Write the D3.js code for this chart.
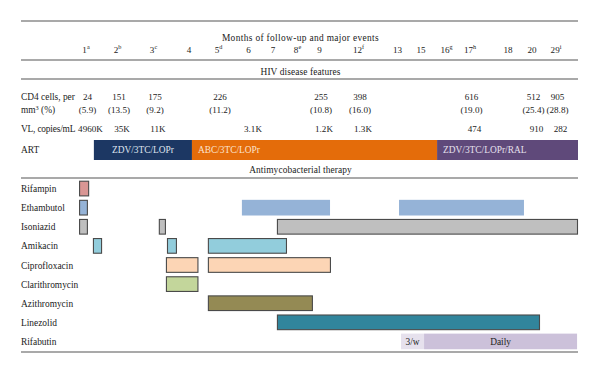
<!DOCTYPE html>
<html>
<head>
<meta charset="utf-8">
<script src="https://cdn.jsdelivr.net/npm/d3@7"></script>
<style>
  html, body { margin: 0; padding: 0; background: #fff; }
  svg { display: block; }
  text { font-family: "Liberation Serif", "DejaVu Serif", serif; fill: #222; }
</style>
</head>
<body>
<div id="chart"></div>
<script>
// ---------- DATA ----------
const months      = [1, 2, 3, 4, 5, 6, 7, 8, 9, 12, 13, 15, 16, 17, 18, 20, 29];
const monthSup    = ["a", "b", "c", "", "d", "", "", "e", "", "f", "", "", "g", "h", "", "", "i"];

const cd4Months   = [1, 2, 3, 5, 9, 12, 17, 20, 29];
const cd4Count    = [24, 151, 175, 226, 255, 398, 616, 512, 905];
const cd4Pct      = ["5.9", "13.5", "9.2", "11.2", "10.8", "16.0", "19.0", "25.4", "28.8"];

const vlMonths    = [1, 2, 3, 6, 9, 12, 17, 20, 29];
const vlCopies    = ["4960K", "35K", "11K", "3.1K", "1.2K", "1.3K", "474", "910", "282"];

const artRegimen  = ["ZDV/3TC/LOPr", "ABC/3TC/LOPr", "ZDV/3TC/LOPr/RAL"];
const artStart    = [1.25, 4.1, 15.63];
const artEnd      = [4.1, 15.63, 37.25];

const drugs = ["Rifampin", "Ethambutol", "Isoniazid", "Amikacin", "Ciprofloxacin",
               "Clarithromycin", "Azithromycin", "Linezolid", "Rifabutin"];

// treatment courses (month units on the follow-up axis)
const courseDrug  = ["Rifampin", "Ethambutol", "Ethambutol", "Ethambutol",
                     "Isoniazid", "Isoniazid", "Isoniazid",
                     "Amikacin", "Amikacin", "Amikacin",
                     "Ciprofloxacin", "Ciprofloxacin", "Clarithromycin",
                     "Azithromycin", "Linezolid", "Rifabutin", "Rifabutin"];
const courseStart = [0.78, 0.78, 5.78, 13.13, 0.78, 3.15, 7.16, 1.22, 3.38, 4.64,
                     3.35, 4.64, 3.35, 4.64, 7.16, 13.3, 15.12];
const courseEnd   = [1.1, 1.06, 9.81, 19.33, 1.06, 3.35, 37.25, 1.51, 3.66, 7.57,
                     4.32, 9.88, 4.32, 8.7, 23, 15.12, 36.9];
const courseNote  = ["", "", "", "", "", "", "", "", "", "", "", "", "", "", "", "3/w", "Daily"];

// ---------- STYLE ----------
const W = 600, H = 374;
const left = 21, right = 578;
const fs = 9.4;      // word labels
const fsNum = 9.1;   // numbers
const lineColor = "#8c8c8c";
const drugColor = d3.scaleOrdinal()
  .domain(drugs)
  .range(["#d99694", "#95b3d7", "#bfbfbf", "#92cddc", "#fcd5b5",
          "#c3d69b", "#948a54", "#31859c", "#ccc1da"]);
const artColor = d3.scaleOrdinal().domain(artRegimen).range(["#1c3763", "#e46c0a", "#5f497a"]);
const artTextColor = ["#dfe3ee", "#fbe3cf", "#e6e0ee"];
const artTextAlign = ["middle", "start", "start"];
const noBorder = new Set([2, 3, 15, 16]);
const noteFill = ["#e6e1ed", "#ccc1da"];

// ---------- SCALES ----------
const monthPos = [86, 117.5, 153.5, 189, 218.5, 248.5, 273, 297.5, 319.5,
                  358.5, 397.5, 421, 446.5, 470, 508, 532, 556];
const x = d3.scaleLinear().domain(months).range(monthPos);
const y = d3.scaleBand().domain(drugs).range([179, 351]).paddingInner(0.18).paddingOuter(0.09);

const svg = d3.select("#chart").append("svg").attr("width", W).attr("height", H);

// rules
[21, 60, 79, 178, 352].forEach(yy => {
  svg.append("line").attr("x1", left).attr("x2", right).attr("y1", yy).attr("y2", yy)
    .attr("stroke", lineColor).attr("stroke-width", 1.5);
});

const mid = (left + right) / 2;
function centerText(t, yy, ls) {
  svg.append("text").attr("x", mid + 1).attr("y", yy).attr("text-anchor", "middle")
    .attr("font-size", fs).attr("letter-spacing", ls).text(t);
}
centerText("Months of follow-up and major events", 40.5, 0.35);
centerText("HIV disease features", 75, 0.1);
centerText("Antimycobacterial therapy", 173, 0.1);

// month header
const mh = svg.append("g").selectAll("text").data(months).join("text")
  .attr("x", d => x(d)).attr("y", 52.5).attr("text-anchor", "middle").attr("font-size", fsNum);
mh.append("tspan").text(d => d);
mh.append("tspan").attr("dy", -3.5).attr("font-size", 6.2).text((d, i) => monthSup[i]);

// row labels
svg.append("text").attr("x", left).attr("y", 99.5).attr("font-size", fs).text("CD4 cells, per");
const lab2 = svg.append("text").attr("x", left).attr("y", 113).attr("font-size", fs);
lab2.append("tspan").text("mm");
lab2.append("tspan").attr("dy", -3.5).attr("font-size", 6.2).text("3");
lab2.append("tspan").attr("dy", 3.5).text(" (%)");
svg.append("text").attr("x", left).attr("y", 131.5).attr("font-size", fs)
  .attr("letter-spacing", -0.2).text("VL, copies/mL");
svg.append("text").attr("x", left).attr("y", 152.5).attr("font-size", fs).text("ART");

// CD4 values
svg.append("g").selectAll("text").data(cd4Months).join("text")
  .attr("x", d => x(d) + 1.5).attr("y", 99.5).attr("text-anchor", "middle").attr("font-size", fsNum)
  .text((d, i) => cd4Count[i]);
svg.append("g").selectAll("text").data(cd4Months).join("text")
  .attr("x", d => x(d) + 1.5).attr("y", 113).attr("text-anchor", "middle").attr("font-size", fsNum)
  .text((d, i) => "(" + cd4Pct[i] + ")");

// VL values
svg.append("g").selectAll("text").data(vlMonths).join("text")
  .attr("x", d => x(d) + 4.5).attr("y", 131.5).attr("text-anchor", "middle").attr("font-size", fsNum)
  .text((d, i) => vlCopies[i]);

// ART bars
const artG = svg.append("g");
artG.selectAll("rect").data(artRegimen).join("rect")
  .attr("x", (d, i) => x(artStart[i])).attr("y", 140)
  .attr("width", (d, i) => x(artEnd[i]) - x(artStart[i])).attr("height", 20)
  .attr("fill", d => artColor(d));
artG.selectAll("text").data(artRegimen).join("text")
  .attr("x", (d, i) => artTextAlign[i] === "middle" ? (x(artStart[i]) + x(artEnd[i])) / 2 : x(artStart[i]) + 6)
  .attr("y", 153).attr("text-anchor", (d, i) => artTextAlign[i])
  .attr("font-size", fs).style("fill", (d, i) => artTextColor[i]).text(d => d);

// drug labels
svg.append("g").selectAll("text").data(drugs).join("text")
  .attr("x", left).attr("y", d => y(d) + y.bandwidth() / 2 + 3.5).attr("font-size", fs).text(d => d);

// courses
const cG = svg.append("g");
let noteIdx = 0;
courseDrug.forEach((dr, i) => {
  const x0 = x(courseStart[i]), x1 = x(courseEnd[i]);
  const bordered = !noBorder.has(i);
  let fill = drugColor(dr);
  if (courseNote[i]) { fill = noteFill[noteIdx++]; }
  cG.append("rect")
    .attr("x", x0 + (bordered ? 0.5 : 0)).attr("y", y(dr) + (bordered ? 0.5 : 0))
    .attr("width", x1 - x0 - (bordered ? 1 : 0)).attr("height", y.bandwidth() - (bordered ? 1 : 0))
    .attr("fill", fill)
    .attr("stroke", bordered ? "#4a4a4a" : "none").attr("stroke-width", 1.1);
  if (courseNote[i]) {
    cG.append("text").attr("x", (x0 + x1) / 2).attr("y", y(dr) + y.bandwidth() / 2 + 3.5)
      .attr("text-anchor", "middle").attr("font-size", fs).text(courseNote[i]);
  }
});
</script>
</body>
</html>
